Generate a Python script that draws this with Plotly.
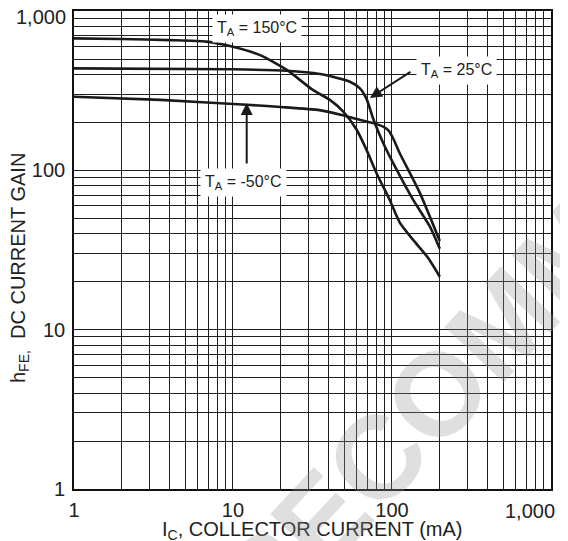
import numpy as np
import plotly.graph_objects as go

# ---- data ----
ic_150 = [1, 2, 4, 6.8, 10, 14.8, 21.8, 31.8, 40.7, 49.4, 60, 69.3, 80, 97, 112, 136, 169, 200]
hfe_150 = [674, 668, 657, 643, 597, 529, 427, 320, 277, 234, 180, 134, 96, 65, 47, 36.6, 28.2, 21.5]

ic_25 = [1, 10, 21.8, 35.3, 40.7, 54.4, 62.9, 69.3, 76.3, 88.2, 107, 136, 173, 200]
hfe_25 = [437, 431, 422, 403, 391, 360, 327, 280, 210, 148, 101, 65.3, 44.5, 32.2]

ic_m50 = [1, 3.5, 12.2, 20, 35, 49, 60, 76, 88, 95, 102, 112, 150, 200]
hfe_m50 = [290, 277, 258, 250, 239, 222, 210, 198, 188, 178, 158, 128, 72, 36]

tick_vals = [1, 10, 100, 1000]
x_tick_text = ["1", "10", "100", ""]      # last label drawn inset as annotation
y_tick_text = ["1", "10", "100", ""]      # last label drawn inset as annotation
corner_label = "1,000"
minor_vals = [m * d for d in (1, 10, 100) for m in range(2, 10)]

FONT = "Liberation Sans, Arial, sans-serif"
INK = "#1a1a1a"
TXT = "#222222"

fig = go.Figure()
for xs, ys in ((ic_150, hfe_150), (ic_25, hfe_25), (ic_m50, hfe_m50)):
    fig.add_trace(go.Scatter(x=xs, y=ys, mode="lines",
                             line=dict(color=INK, width=2.6, shape="spline", smoothing=0.6),
                             showlegend=False, hoverinfo="skip"))

axis_common = dict(
    type="log", tickmode="array", tickvals=tick_vals,
    showgrid=True, gridcolor="#1e1e1e", gridwidth=1.4,
    minor=dict(tickmode="array", tickvals=minor_vals, showgrid=True,
               gridcolor="#1e1e1e", gridwidth=1.4, ticks=""),
    showline=True, linecolor="#111111", linewidth=1.6, mirror=True,
    ticks="", zeroline=False, automargin=False, ticklabeloverflow="allow",
    tickfont=dict(family=FONT, size=20, color=TXT),
)
fig.update_xaxes(range=[0, 3.0005], ticktext=x_tick_text, ticklabelstandoff=2, **axis_common)
fig.update_yaxes(range=[0, 3.0005], ticktext=y_tick_text, ticklabelstandoff=3, **axis_common)

# page body has an 8px margin, so the figure is 8px smaller than the window
OFF = 8
W, H = 568 - OFF, 541 - OFF
L, T = 74 - OFF, 11 - OFF
R = W - (551 - OFF)
B = H - (489 - OFF)
pw, ph = W - L - R, H - T - B

def px2paper(px, py):
    # px, py in window pixels
    return (px - OFF - L) / pw, (H - B - (py - OFF)) / ph

annotations = []
lab_font = dict(family=FONT, size=16, color=TXT)
for txt, xv, yv in (("T<sub>A</sub> = 150°C", 14.2, 780),
                    ("T<sub>A</sub> = 25°C", 253, 421),
                    ("T<sub>A</sub> = -50°C", 11.6, 83.5)):
    annotations.append(dict(x=np.log10(xv), y=np.log10(yv), xref="x", yref="y",
                            text=txt, showarrow=False, font=lab_font,
                            xanchor="center", yanchor="middle",
                            bgcolor="white", borderpad=4))
# arrows
annotations.append(dict(x=np.log10(72.7), y=np.log10(285), ax=np.log10(133.6), ay=np.log10(421),
                        xref="x", yref="y", axref="x", ayref="y", text="", showarrow=True,
                        arrowhead=2, arrowsize=1.2, arrowwidth=2, arrowcolor=INK, standoff=0))
annotations.append(dict(x=np.log10(12.2), y=np.log10(265), ax=np.log10(12.2), ay=np.log10(108),
                        xref="x", yref="y", axref="x", ayref="y", text="", showarrow=True,
                        arrowhead=2, arrowsize=1.2, arrowwidth=2, arrowcolor=INK, standoff=0))
# inset corner tick labels
xp, yp = px2paper(557, 511)
annotations.append(dict(x=xp, y=yp, xref="paper", yref="paper", showarrow=False,
                        xanchor="right", yanchor="middle", text=corner_label,
                        font=dict(family=FONT, size=20, color=TXT)))
xp, yp = px2paper(68, 17)
annotations.append(dict(x=xp, y=yp, xref="paper", yref="paper", showarrow=False,
                        xanchor="right", yanchor="middle", text=corner_label,
                        font=dict(family=FONT, size=20, color=TXT)))
# axis titles
xp, yp = px2paper(312, 530)
annotations.append(dict(x=xp, y=yp, xref="paper", yref="paper", showarrow=False,
                        xanchor="center", yanchor="middle",
                        text="I<sub>C</sub>, COLLECTOR CURRENT (mA)",
                        font=dict(family=FONT, size=20, color=TXT)))
xp, yp = px2paper(19, 268)
annotations.append(dict(x=xp, y=yp, xref="paper", yref="paper", showarrow=False, textangle=-90,
                        xanchor="center", yanchor="middle",
                        text="h<sub>FE,</sub>  DC CURRENT GAIN",
                        font=dict(family=FONT, size=20, color=TXT)))
# watermark
xp, yp = px2paper(560, 262)
annotations.append(dict(x=xp, y=yp, xref="paper", yref="paper", showarrow=False, textangle=-47,
                        xanchor="center", yanchor="middle",
                        text="<b>RECOMMENDED</b>",
                        font=dict(family=FONT, size=118, color="rgba(150,150,150,0.3)")))

fig.update_layout(
    width=W, height=H, margin=dict(l=L, r=R, t=T, b=B, autoexpand=False),
    paper_bgcolor="white", plot_bgcolor="white",
    annotations=annotations, showlegend=False,
)
fig.write_html("out.html")
